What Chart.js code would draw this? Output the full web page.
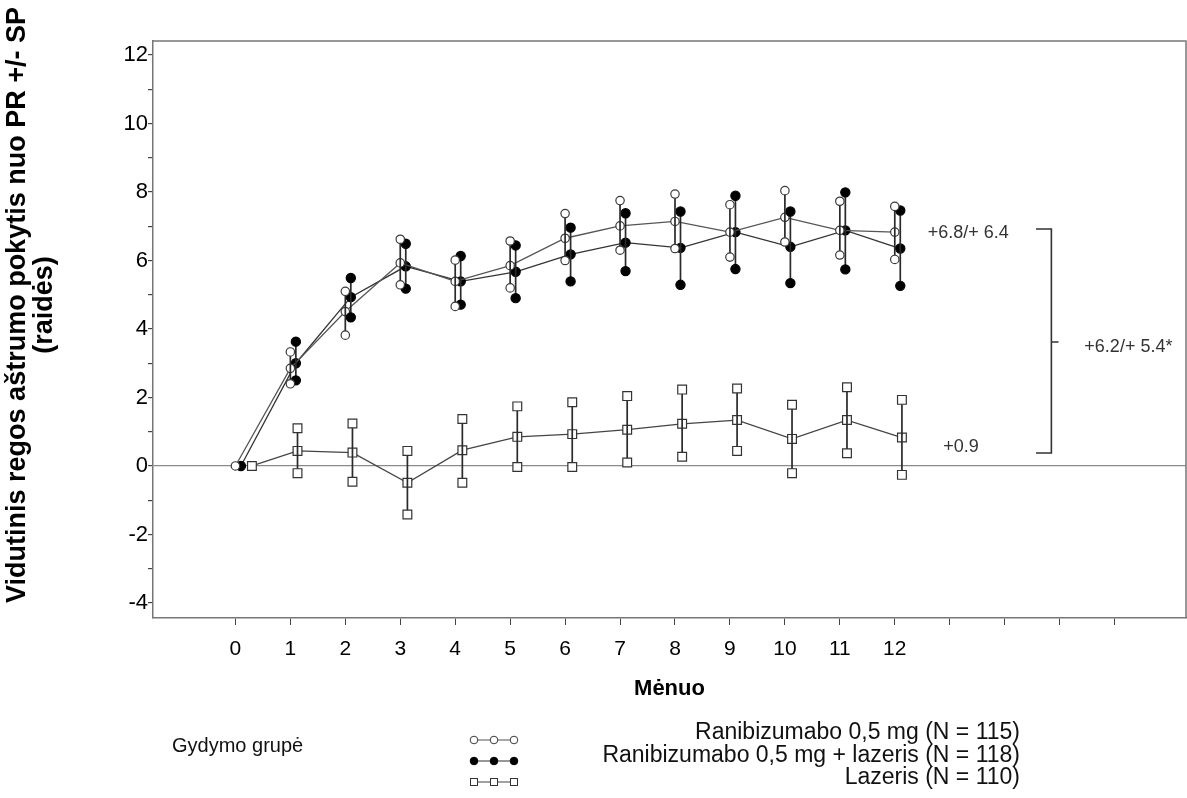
<!DOCTYPE html>
<html><head><meta charset="utf-8">
<script src="https://cdn.jsdelivr.net/npm/chart.js@4.4.1/dist/chart.umd.min.js"></script>
<style>
html,body{margin:0;padding:0;background:#fff;}
#wrap{position:relative;width:1187px;height:798px;overflow:hidden;}
#c{position:absolute;left:0;top:0;}
.leg{position:absolute;font-family:"Liberation Sans",Arial,sans-serif;font-size:19px;color:#111;line-height:22.5px;white-space:nowrap;}
#legText{right:167px;top:720px;text-align:right;font-size:23px;}
#legSym{left:468px;top:729px;}
</style></head><body>
<div id="wrap">
<canvas id="c" width="1187" height="798"></canvas>
<div class="leg" style="left:172px;top:734px;font-size:20px;">Gydymo grupė</div>
<div class="leg" id="legSym"></div>
<div class="leg" id="legText"></div>
</div>
<script>
// ---- data ----
const months = [0,1,2,3,4,5,6,7,8,9,10,11,12];
const seriesNames = ['Ranibizumabo 0,5 mg (N = 115)','Ranibizumabo 0,5 mg + lazeris (N = 118)','Lazeris (N = 110)'];
const ranMean = [0, 2.85, 4.51, 5.93, 5.39, 5.85, 6.65, 7.01, 7.14, 6.83, 7.26, 6.88, 6.83];
const ranLo   = [0, 2.40, 3.82, 5.29, 4.66, 5.20, 6.00, 6.30, 6.35, 6.10, 6.54, 6.16, 6.03];
const ranHi   = [0, 3.33, 5.10, 6.62, 6.01, 6.57, 7.37, 7.75, 7.94, 7.63, 8.04, 7.73, 7.58];
const rlMean  = [0, 3.00, 4.93, 5.83, 5.39, 5.67, 6.18, 6.52, 6.37, 6.83, 6.40, 6.88, 6.35];
const rlLo    = [0, 2.50, 4.34, 5.18, 4.71, 4.90, 5.39, 5.69, 5.29, 5.75, 5.34, 5.74, 5.26];
const rlHi    = [0, 3.63, 5.49, 6.49, 6.13, 6.44, 6.96, 7.38, 7.43, 7.89, 7.43, 7.99, 7.46];
const lzMean  = [0, 0.44, 0.39, -0.49, 0.46, 0.85, 0.93, 1.06, 1.23, 1.34, 0.79, 1.34, 0.83];
const lzLo    = [0, -0.21, -0.46, -1.42, -0.49, -0.03, -0.03, 0.10, 0.27, 0.44, -0.21, 0.37, -0.26];
const lzHi    = [0, 1.10, 1.24, 0.44, 1.37, 1.74, 1.86, 2.04, 2.23, 2.26, 1.79, 2.30, 1.93];
const xTickValues = [0,1,2,3,4,5,6,7,8,9,10,11,12,13,14,15,16];
const xTickLabels = ['0','1','2','3','4','5','6','7','8','9','10','11','12','','','',''];
const yTickValues = [-4,-3,-2,-1,0,1,2,3,4,5,6,7,8,9,10,11,12];
const yTickLabels = ['-4','','-2','','0','','2','','4','','6','','8','','10','','12'];
const yTitle = ['Vidutinis regos aštrumo pokytis nuo PR +/- SP', '(raidės)'];
const xTitle = 'Mėnuo';
const notes = ['+6.8/+ 6.4', '+6.2/+ 5.4*', '+0.9'];

// ---- helpers ----
const FONT = '"Liberation Sans", Arial, Helvetica, sans-serif';
const dodge = [0, 0.1, 0.13];
function xOf(k, m){ return m + (k === 2 && m === 0 ? 0.3 : dodge[k]); }
function meanData(k, mean){ return months.map((m,i)=>({x:xOf(k,m), y:mean[i]})); }
function errData(k, lo, hi){
  const d=[];
  months.forEach((m,i)=>{ if(lo[i]!==hi[i]){ d.push({x:xOf(k,m),y:lo[i]},{x:xOf(k,m),y:hi[i]},{x:xOf(k,m),y:null}); } });
  return d;
}
const styles = [
  {pointStyle:'circle', r:4.2, bg:'#fff', bd:'#3a3a3a', line:'#555'},
  {pointStyle:'circle', r:4.6, bg:'#000', bd:'#000', line:'#333'},
  {pointStyle:'rect',   r:6.2, bg:'#fff', bd:'#333', line:'#444'}
];
function meanDs(k, mean){
  const s=styles[k];
  return {data:meanData(k,mean), showLine:true, borderColor:s.line, borderWidth:1.3,
    pointStyle:s.pointStyle, pointRadius:s.r, pointBackgroundColor:s.bg, pointBorderColor:s.bd, pointBorderWidth:1.2, order:1};
}
function errDs(k, lo, hi){
  const s=styles[k];
  return {data:errData(k,lo,hi), showLine:true, spanGaps:false, borderColor:'#2a2a2a', borderWidth:1.7,
    pointStyle:s.pointStyle, pointRadius:s.r, pointBackgroundColor:s.bg, pointBorderColor:s.bd, pointBorderWidth:1.2, order:0};
}

const boxPlugin = {
  id:'box',
  beforeDatasetsDraw(chart){
    const {ctx, chartArea:a} = chart;
    ctx.save(); ctx.strokeStyle='#777'; ctx.lineWidth=1.5;
    ctx.beginPath(); ctx.moveTo(a.left,a.top); ctx.lineTo(a.right,a.top); ctx.lineTo(a.right,a.bottom); ctx.stroke();
    ctx.restore();
  }
};
const yTitlePlugin = {
  id:'ytitle',
  afterDraw(chart){
    const {ctx} = chart;
    ctx.save();
    ctx.translate(0, 305); ctx.rotate(-Math.PI/2);
    ctx.fillStyle='#000'; ctx.font='bold 27px '+FONT; ctx.textAlign='center'; ctx.textBaseline='middle';
    ctx.fillText(yTitle[0], 0, 18);
    ctx.fillText(yTitle[1], 0, 45);
    ctx.restore();
  }
};
const notePlugin = {
  id:'notes',
  afterDraw(chart){
    const {ctx, scales:{x,y}} = chart;
    ctx.save();
    ctx.fillStyle='#333'; ctx.font='18px '+FONT; ctx.textBaseline='middle'; ctx.textAlign='left';
    ctx.fillText(notes[0], x.getPixelForValue(12.6), y.getPixelForValue(6.8));
    ctx.fillText(notes[1], x.getPixelForValue(15.45), y.getPixelForValue(3.47));
    ctx.fillText(notes[2], x.getPixelForValue(12.88), y.getPixelForValue(0.55));
    // bracket
    const bx=x.getPixelForValue(14.85), hx=x.getPixelForValue(14.57), tx=x.getPixelForValue(14.98);
    const top=y.getPixelForValue(6.92), bot=y.getPixelForValue(0.38), mid=y.getPixelForValue(3.62);
    ctx.strokeStyle='#333'; ctx.lineWidth=1.6;
    ctx.beginPath(); ctx.moveTo(hx,top); ctx.lineTo(bx,top); ctx.lineTo(bx,bot); ctx.lineTo(hx,bot);
    ctx.moveTo(bx,mid); ctx.lineTo(tx,mid); ctx.stroke();
    ctx.restore();
  }
};

new Chart(document.getElementById('c'), {
  type:'scatter',
  data:{datasets:[
    errDs(0, ranLo, ranHi), errDs(1, rlLo, rlHi), errDs(2, lzLo, lzHi),
    meanDs(0, ranMean), meanDs(1, rlMean), meanDs(2, lzMean)
  ]},
  options:{
    responsive:false, animation:false,
    layout:{autoPadding:false, padding:{left:0,right:1,top:41,bottom:80}},
    plugins:{legend:{display:false}, tooltip:{enabled:false}},
    scales:{
      x:{type:'linear', min:-1.5, max:17.3,
        afterBuildTicks:s=>{s.ticks = xTickValues.map(v=>({value:v}));},
        afterFit:s=>{s.height=100;},
        ticks:{autoSkip:false, maxRotation:0, padding:12, color:'#000', font:{family:FONT,size:21},
          callback:(v)=>{const i=xTickValues.indexOf(v); return i>=0?xTickLabels[i]:'';}},
        grid:{drawOnChartArea:false, drawTicks:true, tickLength:7, tickColor:'#444'},
        border:{display:true, color:'#777', width:1.5},
        title:{display:true, text:xTitle, color:'#000', font:{family:FONT,size:22,weight:'bold'}, padding:{top:0,bottom:16}}
      },
      y:{type:'linear', min:-4.44, max:12.41,
        afterBuildTicks:s=>{s.ticks = yTickValues.map(v=>({value:v}));},
        afterFit:s=>{s.width=153;},
        ticks:{autoSkip:false, padding:0, color:'#000', font:{family:FONT,size:22},
          callback:(v)=>{const i=yTickValues.indexOf(v); return i>=0?yTickLabels[i]:'';}},
        grid:{drawOnChartArea:true, drawTicks:true, tickLength:5, tickColor:'#444',
          color:(c)=> (c.tick && c.tick.value===0) ? '#8a8a8a' : 'rgba(0,0,0,0)', lineWidth:1.2},
        border:{display:true, color:'#777', width:1.5},
        title:{display:false}
      }
    }
  },
  plugins:[boxPlugin, yTitlePlugin, notePlugin]
});

// ---- legend (HTML) ----
const legText = document.getElementById('legText');
legText.innerHTML = seriesNames.map(n=>'<div>'+n+'</div>').join('');
const legSym = document.getElementById('legSym');
function symSvg(k){
  const s=styles[k];
  let m='';
  [6,26,46].forEach(cx=>{
    if(s.pointStyle==='rect') m+=`<rect x="${cx-3.5}" y="7.5" width="7" height="7" fill="${s.bg}" stroke="${s.bd}" stroke-width="1"/>`;
    else m+=`<circle cx="${cx}" cy="11" r="3.8" fill="${s.bg}" stroke="${s.bd}" stroke-width="1"/>`;
  });
  return `<div style="height:21px"><svg width="54" height="21"><line x1="6" y1="11" x2="46" y2="11" stroke="${s.line}" stroke-width="1.2"/>${m}</svg></div>`;
}
legSym.innerHTML = [0,1,2].map(symSvg).join('');
</script>
</body></html>
